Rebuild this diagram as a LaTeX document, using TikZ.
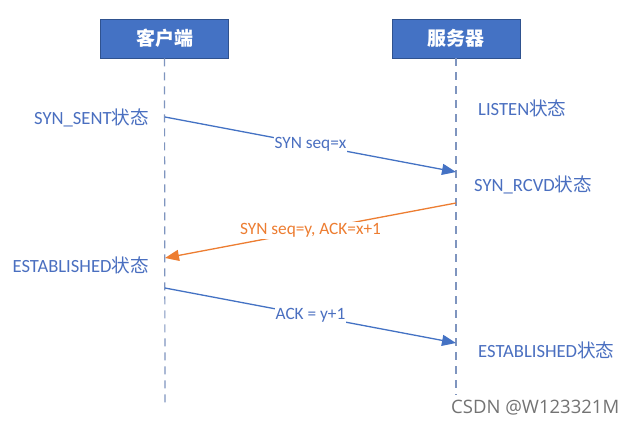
\documentclass[tikz,border=0pt]{standalone}
\usepackage{fontspec}
\setmainfont{Carlito}
\newfontfamily\cjk{Noto Sans CJK SC}
\newfontfamily\wmfont{Open Sans}
\usetikzlibrary{arrows.meta}
\definecolor{boxblue}{HTML}{4472C4}
\definecolor{boxedge}{HTML}{2F528F}
\definecolor{lineblue}{HTML}{4472C4}
\definecolor{lifeline}{HTML}{7F95BF}
\definecolor{txtblue}{HTML}{4A6FC0}
\definecolor{orng}{HTML}{ED7D31}
\tikzset{
  actor/.style={draw=boxedge, line width=0.8pt, fill=boxblue, minimum width=128pt, minimum height=39pt, inner sep=0pt, text=white, font=\fontsize{19}{22}\selectfont\cjk\bfseries},
  life/.style={draw=lifeline, line width=1.2pt, dash pattern=on 8pt off 6pt},
  msg/.style={line width=1.3pt, -{Triangle[length=14pt,width=11pt]}},
  msglabel/.style={fill=white, inner sep=1pt, font=\fontsize{17.3}{20}\selectfont},
  state/.style={text=txtblue, inner sep=0pt, font=\fontsize{18.6}{21}\selectfont}
}
\newcommand{\zt}{{\cjk 状态}}
\begin{document}
\begin{tikzpicture}[x=1pt,y=-1pt]
\useasboundingbox (0,0) rectangle (639,426);
\fill[white] (0,0) rectangle (639,426);
% actors
\node[actor] (client) at (164.5,38.5) {客户端};
\node[actor] (server) at (456,38.5) {服务器};
% lifeline ends
\coordinate (cend) at (165,405);
\coordinate (send) at (456,395);
\draw[life] (client.south) -- (cend);
\draw[life] (server.south) -- (send);
% message points
\coordinate (a1) at (165,117);
\coordinate (b1) at (456,172);
\coordinate (a2) at (456,203);
\coordinate (b2) at (165,258);
\coordinate (a3) at (165,288);
\coordinate (b3) at (456,343);
\draw[msg, lineblue] (a1) -- node[msglabel, text=txtblue] (m1) {SYN seq=x} (b1);
\draw[msg, orng] (a2) -- node[msglabel, text=orng] (m2) {SYN seq=y, ACK=x+1} (b2);
\draw[msg, lineblue] (a3) -- node[msglabel, text=txtblue] (m3) {ACK = y+1} (b3);
% states
\node[state, anchor=east] (s1) at (149,118) {SYN\_SENT\zt};
\node[state, anchor=west] (s2) at (478,108) {LISTEN\zt};
\node[state, anchor=west] (s3) at (474,185) {SYN\_RCVD\zt};
\node[state, anchor=east] (s4) at (149,265) {ESTABLISHED\zt};
\node[state, anchor=west] (s5) at (478,350) {ESTABLISHED\zt};
% watermark
\node[anchor=west, text=black!55, inner sep=0pt, font=\fontsize{18.5}{21}\selectfont\wmfont] (wm) at (451,408) {CSDN @W123321M};
\end{tikzpicture}
\end{document}
